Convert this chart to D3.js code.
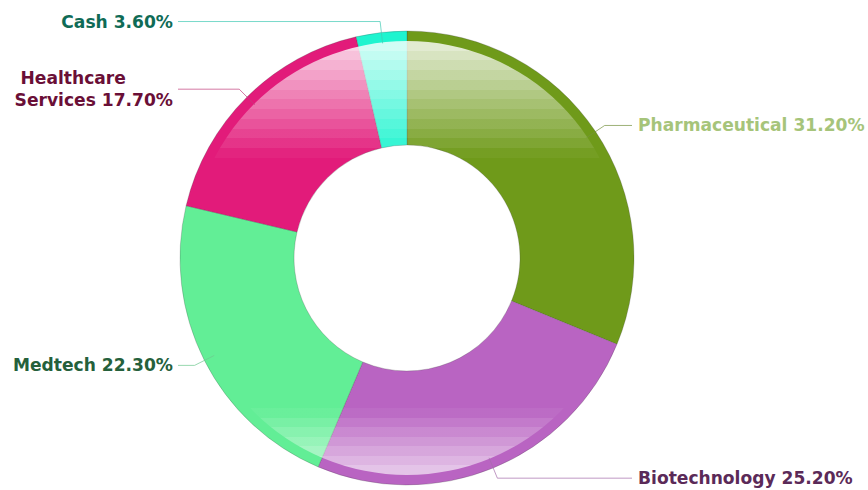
<!DOCTYPE html>
<html>
<head>
<meta charset="utf-8">
<script src="https://cdn.jsdelivr.net/npm/d3@7"></script>
<style>
	body { margin: 0; background: #fff; }
	svg { display: block; }
	.label { font-family: "DejaVu Sans", Verdana, sans-serif; font-weight: bold; font-size: 17.1px; }
</style>
</head>
<body>
<svg id="chart" width="868" height="490"></svg>
<script>
const categories = ["Pharmaceutical", "Biotechnology", "Medtech", "Healthcare Services", "Cash"];
const shares = [31.2, 25.2, 22.3, 17.7, 3.6];
const sliceColors = ["#6f9a1a", "#b964c2", "#62ee96", "#e21b7a", "#1ff4cf"];
const labelColors = ["#a6c47a", "#5b2a58", "#25603b", "#6a0f37", "#0f6b56"];

function donut(element) {
	const svg = d3.select(element);
	const cx = 407, cy = 258;
	const outer = 227, inner = 113, rim = 10;

	const data = categories.map((c, i) => ({ name: c, value: shares[i], color: sliceColors[i], text: labelColors[i] }));

	// banded white shine, top and bottom
	const defs = svg.append("defs");
	const grad = defs.append("linearGradient")
		.attr("id", "shine")
		.attr("gradientUnits", "userSpaceOnUse")
		.attr("x1", 0).attr("y1", -outer)
		.attr("x2", 0).attr("y2", outer);
	const off = (y) => (y + outer) / (2 * outer);
	const stops = [];
	function bands(y0, y1, o0, o1, n) {
		const h = (y1 - y0) / n;
		for (let i = 0; i < n; i++) {
			const o = o0 + (o1 - o0) * i / (n - 1);
			stops.push([off(y0 + i * h), o]);
			stops.push([off(y0 + (i + 1) * h), o]);
		}
	}
	stops.push([0, 0.8]);
	bands(-outer + rim, -100, 0.8, 0.04, 12);
	stops.push([off(-100), 0]);
	stops.push([off(150), 0]);
	bands(150, outer - rim, 0.05, 0.62, 7);
	stops.push([1, 0.62]);
	grad.selectAll("stop")
		.data(stops)
		.enter().append("stop")
		.attr("offset", (d) => d[0])
		.attr("stop-color", "#fff")
		.attr("stop-opacity", (d) => d[1]);

	const g = svg.append("g")
		.attr("transform", "translate(" + cx + "," + cy + ")");

	const pie = d3.pie()
		.value((d) => d.value)
		.sort(null);

	const path = d3.arc()
		.outerRadius(outer)
		.innerRadius(inner);

	const arcs = pie(data);

	g.selectAll(".slice")
		.data(arcs)
		.enter().append("path")
		.attr("class", "slice")
		.attr("d", path)
		.attr("fill", (d) => d.data.color)
		.attr("stroke", "rgba(60,60,60,0.35)")
		.attr("stroke-width", 0.7);

	g.append("path")
		.attr("d", d3.arc().innerRadius(inner).outerRadius(outer - rim)({ startAngle: 0, endAngle: 2 * Math.PI }))
		.attr("fill", "url(#shine)");

	// leader lines
	const pointAt = (d, r) => {
		const a = (d.startAngle + d.endAngle) / 2;
		return [Math.sin(a) * r, -Math.cos(a) * r];
	};
	const colX = 225;

	arcs.forEach((d) => {
		const p0 = pointAt(d, outer - 11);
		const p1 = pointAt(d, outer + 11);
		const right = p1[0] > 0;
		const p2 = [right ? colX : -colX - 4, p1[1]];
		g.append("polyline")
			.attr("points", [p0, p1, p2].map((p) => p.join(",")).join(" "))
			.attr("fill", "none")
			.attr("stroke", d3.interpolateRgb(d.data.color, "#808080")(0.35))
			.attr("stroke-opacity", 0.7)
			.attr("stroke-width", 1);

		const txt = d.data.name + " " + d.data.value.toFixed(2) + "%";
		const words = d.data.name.split(" ");
		const lines = words.length > 1 ? [" " + words[0], words.slice(1).join(" ") + " " + d.data.value.toFixed(2) + "%"] : [txt];
		const lh = 22;
		const tx = right ? p2[0] + 6 : p2[0] - 5;
		const t = g.append("text")
			.attr("class", "label")
			.attr("fill", d.data.text)
			.attr("xml:space", "preserve");
		lines.forEach((ln, i) => {
			t.append("tspan")
				.attr("y", p1[1] + 6 + (i - (lines.length - 1) / 2) * lh)
				.text(ln);
		});
		// align each block on its widest line
		const widest = d3.max(t.selectAll("tspan").nodes(), (n) => n.getComputedTextLength());
		const startX = right ? tx : tx - widest;
		t.selectAll("tspan").attr("x", startX);
	});
}

donut("#chart");
</script>
</body>
</html>
